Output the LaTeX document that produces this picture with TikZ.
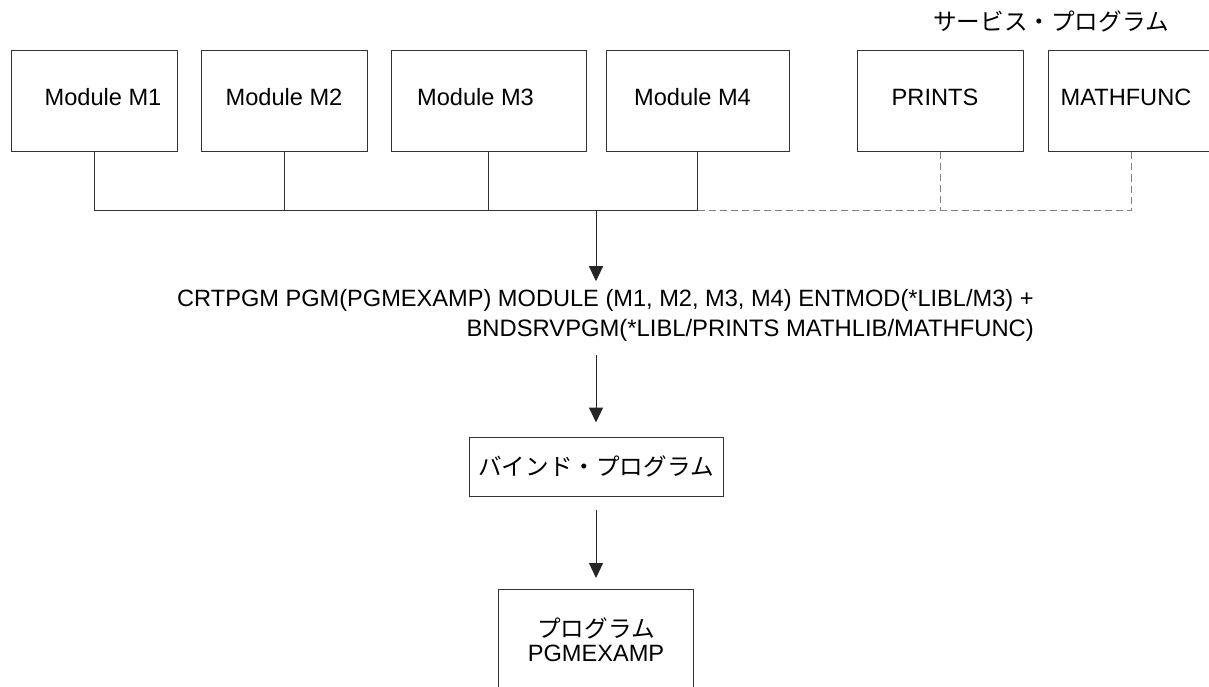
\documentclass[tikz,border=0pt]{standalone}
\usepackage{fontspec}
\setmainfont{Liberation Sans}
\newfontfamily\jp{Noto Sans CJK JP}
\usetikzlibrary{arrows.meta,positioning}

\begin{document}
\begin{tikzpicture}[x=1pt,y=-1pt,
    font=\fontsize{23.6}{30}\selectfont,
    box/.style={draw=black!80,line width=1pt,minimum height=101pt,inner sep=0pt},
    modbox/.style={box,text depth=8pt},
    cmdline/.style={inner xsep=0pt,inner ysep=8pt,font=\fontsize{23.8}{30}\selectfont},
    link/.style={draw=black!80,line width=1pt},
    svclink/.style={draw=black!50,line width=1pt,dash pattern=on 7pt off 4pt},
    flow/.style={draw=black!85,line width=1pt,-{Triangle[length=15pt,width=14pt]}}]
    \useasboundingbox (0,0) rectangle (1209,687);
    \clip (0,0) rectangle (1209,687);

    % modules
    \node[modbox,minimum width=166pt] (m1) at (94,101) {\hspace*{18pt}Module M1};
    \node[modbox,minimum width=166pt] (m2) at (284,101) {Module M2};
    \node[modbox,minimum width=195pt] (m3) at (488.5,101) {Module M3\hspace*{26pt}};
    \node[modbox,minimum width=183pt] (m4) at (697.5,101) {Module M4\hspace*{10pt}};

    % service programs
    \node (svctitle) at (1051,21) {\jp サービス・プログラム};
    \node[modbox,minimum width=166pt] (prints) at (940,101) {PRINTS\hspace*{10pt}};
    \node[modbox,minimum width=166pt] (mathfunc) at (1131,101) {MATHFUNC\hspace*{10pt}};

    \coordinate (hub) at (596,210);
    \draw[link] (m1.south) -- (m1.south |- hub) -- (m4.south |- hub) -- (m4.south);
    \draw[link] (m2.south) -- (m2.south |- hub);
    \draw[link] (m3.south) -- (m3.south |- hub);
    \draw[svclink] (m4.south |- hub) -- (mathfunc.south |- hub) -- (mathfunc.south);
    \draw[svclink] (prints.south) -- (prints.south |- hub);

    % command
    \node[cmdline,anchor=base west] (cmd) at (177,306.5)
        {\fontsize{23.6}{30}\selectfont CRTPGM PGM(PGMEXAMP) MODULE (M1, M2, M3, M4) ENTMOD(*LIBL/M3) +};
    \node[cmdline,inner ysep=0pt,anchor=base east] (cmdcont) at (1034,336.5)
        {BNDSRVPGM(*LIBL/PRINTS MATHLIB/MATHFUNC)};
    \draw[flow] (hub) -- (hub |- cmd.north);

    \node[box,minimum width=254pt,minimum height=59pt] (bind) at (596,466.5) {\jp バインド・プログラム};
    \draw[flow,shorten <=13pt,shorten >=14pt] (bind.north |- cmdcont.south) -- (bind.north);

    \node[box,minimum width=195pt,minimum height=0pt,inner ysep=28pt,align=center,anchor=north,
        font=\fontsize{23.6}{24}\selectfont] (prog) at (596,589) {\jp プログラム\\PGMEXAMP};
    \draw[flow,shorten <=13pt,shorten >=11pt] (bind) -- (prog);
\end{tikzpicture}
\end{document}
